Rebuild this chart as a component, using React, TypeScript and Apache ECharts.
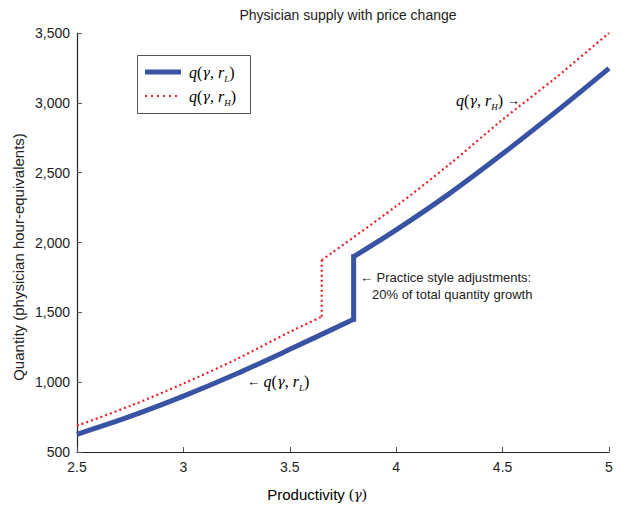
import React, { useEffect, useRef } from "react";
import * as echarts from "echarts";

const xTicks = [2.5, 3, 3.5, 4, 4.5, 5];
const yTicks = [500, 1000, 1500, 2000, 2500, 3000, 3500];

// q(gamma, r_L): blue solid, practice-style jump at gamma = 3.8
const lowGamma = [2.5, 2.75, 3, 3.25, 3.5, 3.8, 3.8, 4, 4.25, 4.5, 4.75, 5];
const lowQ = [627, 755, 900, 1060, 1235, 1450, 1898, 2090, 2350, 2635, 2935, 3247];

// q(gamma, r_H): red dotted, jump at gamma = 3.65
const highGamma = [2.5, 2.75, 3, 3.25, 3.5, 3.65, 3.65, 4, 4.25, 4.5, 4.75, 5];
const highQ = [688, 830, 990, 1165, 1360, 1468, 1874, 2260, 2560, 2880, 3180, 3500];

const BLUE = "#3953a4";
const RED = "#e8202a";
const SANS = "'Liberation Sans', Arial, Helvetica, sans-serif";
const SERIF = "'Liberation Serif', 'Times New Roman', serif";
const GREEK = "'DejaVu Serif', serif";

const mathRich = {
  i: { fontFamily: SERIF, fontStyle: "italic", fontSize: 16, color: "#222", lineHeight: 18 },
  g: { fontFamily: GREEK, fontStyle: "italic", fontSize: 13, color: "#222", lineHeight: 18 },
  n: { fontFamily: SERIF, fontSize: 16, color: "#222", lineHeight: 18 },
  s: { fontFamily: SERIF, fontStyle: "italic", fontSize: 9, color: "#222", lineHeight: 18, verticalAlign: "bottom", padding: [0, 0, -2, 0] },
  a: { fontFamily: SANS, fontSize: 13, color: "#333", lineHeight: 18 },
};

const qText = (sub: string) => `{i|q}{n|(}{g|γ}{n|, }{i|r}{s|${sub}}{n|)}`;

function segments(gs: number[], qs: number[]) {
  const pts = gs.map((g, i) => [g, qs[i]]);
  let j = 1;
  while (j < gs.length && gs[j] !== gs[j - 1]) j++;
  return { pre: pts.slice(0, j), jump: pts.slice(j - 1, j + 1), post: pts.slice(j) };
}

export default function App() {
  const ref = useRef<HTMLDivElement>(null);
  useEffect(() => {
    if (!ref.current) return;
    const chart = echarts.init(ref.current, null, { renderer: "svg" });
    const lo = segments(lowGamma, lowQ);
    const hi = segments(highGamma, highQ);
    const blueStyle = { color: BLUE, width: 5, join: "miter" };
    const blueJump = { color: BLUE, width: 5, cap: "square" };
    const redStyle = { color: RED, width: 2.2, type: [2, 3] };
    const mk = (data: number[][], style: any, smooth: number, z: number) => ({
      type: "line",
      data,
      smooth,
      showSymbol: false,
      lineStyle: style,
      z,
    });
    chart.setOption({
      animation: false,
      backgroundColor: "#fff",
      title: {
        text: "Physician supply with price change",
        left: 343,
        top: 3,
        textAlign: "center",
        textStyle: { fontFamily: SANS, fontSize: 14, fontWeight: "normal", color: "#222" },
      },
      grid: { left: 77, right: 12, top: 33, bottom: 60 },
      xAxis: {
        type: "value",
        min: 2.5,
        max: 5,
        interval: 0.5,
        axisLine: { show: true, lineStyle: { color: "#222", width: 1.2 } },
        axisTick: { show: true, inside: true, length: 5, lineStyle: { color: "#555" } },
        axisLabel: {
          margin: 8,
          fontFamily: SANS,
          fontSize: 14,
          color: "#222",
          formatter: (v: number) => String(v),
        },
        splitLine: { show: false },
      },
      yAxis: {
        type: "value",
        min: 500,
        max: 3500,
        interval: 500,
        axisLine: { show: true, lineStyle: { color: "#222", width: 1.2 } },
        axisTick: { show: true, inside: true, length: 5, lineStyle: { color: "#555" } },
        axisLabel: {
          margin: 7,
          fontFamily: SANS,
          fontSize: 14,
          color: "#222",
          formatter: (v: number) => v.toLocaleString("en-US"),
        },
        splitLine: { show: false },
      },
      series: [
        mk(lo.pre, blueStyle, 0.3, 2),
        mk(lo.jump, blueJump, 0, 2),
        mk(lo.post, blueStyle, 0.3, 2),
        mk(hi.pre, redStyle, 0.3, 3),
        mk(hi.jump, redStyle, 0, 3),
        mk(hi.post, redStyle, 0.3, 3),
      ],
      graphic: [
        {
          type: "rect",
          shape: { x: 137.5, y: 55.5, width: 113, height: 58 },
          style: { fill: "#fff", stroke: "#555", lineWidth: 1 },
        },
        {
          type: "line",
          shape: { x1: 145, y1: 72, x2: 181, y2: 72 },
          style: { stroke: BLUE, lineWidth: 5 },
        },
        {
          type: "line",
          shape: { x1: 145, y1: 96, x2: 181, y2: 96 },
          style: { stroke: RED, lineWidth: 2, lineDash: [2, 4] },
        },
        {
          type: "text",
          x: 189,
          y: 72,
          style: { text: qText("L"), rich: mathRich, verticalAlign: "middle", align: "left" },
        },
        {
          type: "text",
          x: 189,
          y: 96,
          style: { text: qText("H"), rich: mathRich, verticalAlign: "middle", align: "left" },
        },
        {
          type: "text",
          x: 247,
          y: 381,
          style: { text: "{a|← }" + qText("L"), rich: mathRich, verticalAlign: "middle", align: "left" },
        },
        {
          type: "text",
          x: 456,
          y: 100,
          style: { text: qText("H") + "{a| →}", rich: mathRich, verticalAlign: "middle", align: "left" },
        },
        {
          type: "text",
          x: 360,
          y: 277,
          style: {
            text: "← Practice style adjustments:",
            fontFamily: SANS,
            fontSize: 13,
            fill: "#222",
            verticalAlign: "middle",
            align: "left",
          },
        },
        {
          type: "text",
          x: 372,
          y: 294,
          style: {
            text: "20% of total quantity growth",
            fontFamily: SANS,
            fontSize: 13,
            fill: "#222",
            verticalAlign: "middle",
            align: "left",
          },
        },
        {
          type: "text",
          x: 317,
          y: 494,
          style: {
            text: "{p|Productivity }{g|(}{gi|γ}{g|)}",
            rich: {
              p: { fontFamily: SANS, fontSize: 15, color: "#222" },
              g: { fontFamily: SERIF, fontSize: 15, color: "#222" },
              gi: { fontFamily: GREEK, fontStyle: "italic", fontSize: 13, color: "#222" },
            },
            align: "center",
            verticalAlign: "middle",
          },
        },
        {
          type: "text",
          x: 18,
          y: 257,
          rotation: Math.PI / 2,
          style: {
            text: "Quantity (physician hour-equivalents)",
            fontFamily: SANS,
            fontSize: 15,
            fill: "#222",
            align: "center",
            verticalAlign: "middle",
          },
        },
      ],
    });
    return () => chart.dispose();
  }, []);
  return <div ref={ref} style={{ width: 621, height: 512, position: "absolute", left: 0, top: 0 }} />;
}
